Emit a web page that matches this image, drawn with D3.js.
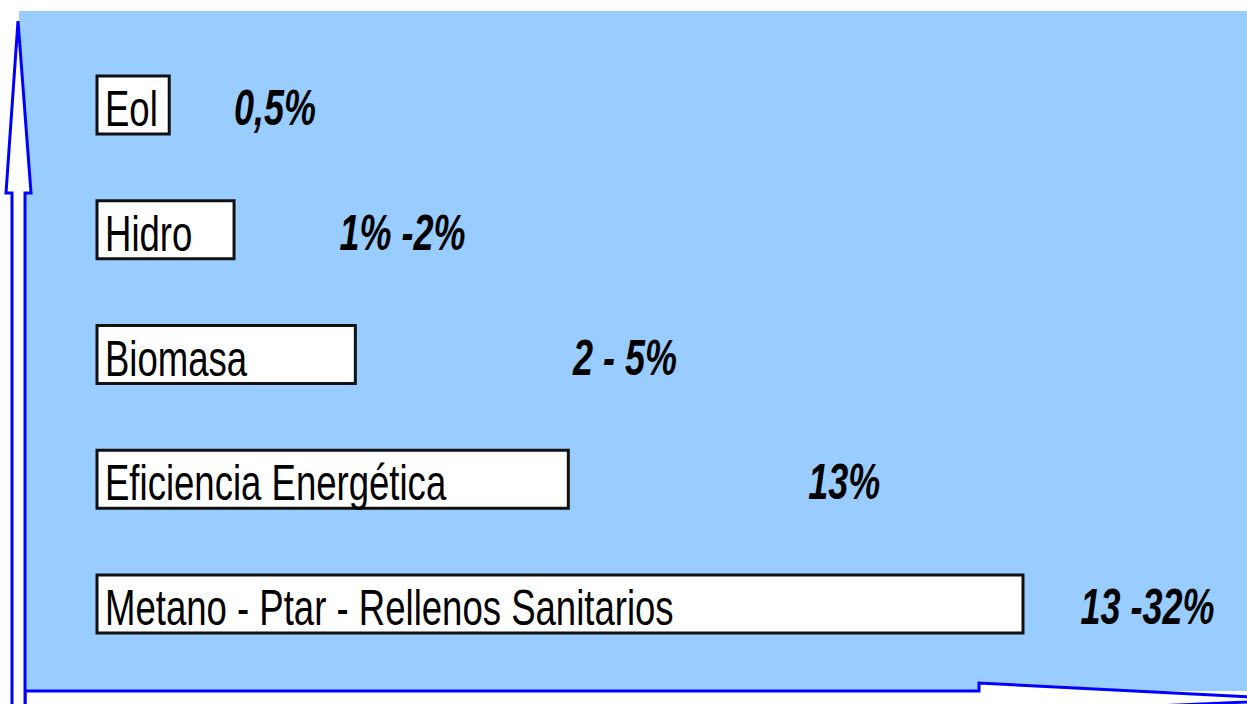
<!DOCTYPE html>
<html>
<head>
<meta charset="utf-8">
<script src="https://cdn.jsdelivr.net/npm/d3@7"></script>
<style>
  html, body { margin: 0; padding: 0; background: #fff; }
  svg { display: block; }
</style>
</head>
<body>
<script>
"use strict";

// categories, top to bottom
const categories = ["Eol", "Hidro", "Biomasa", "Eficiencia Energética", "Metano - Ptar - Rellenos Sanitarios"];
// box length, arbitrary index (longest = 100)
const barValues = [7.8, 14.8, 27.9, 50.9, 100];
// percentage shares shown next to each box
const shareLabels = ["0,5%", "1% -2%", "2 - 5%", "13%", "13 -32%"];
// where each share label starts, same index units as the boxes
const labelAt = [14.8, 26.2, 51.4, 76.8, 106.2];

const width = 1247,
      height = 704;

const svg = d3.select("body").append("svg")
              .attr("width", width)
              .attr("height", height);

// plot area
svg.append("rect")
   .attr("x", 19)
   .attr("y", 11)
   .attr("width", width - 19)
   .attr("height", 691 - 11)
   .attr("fill", "#99ccff");

const x = d3.scaleLinear()
            .domain([0, 100])
            .range([97, 1023]);

const y = d3.scalePoint()
            .domain(categories)
            .range([105, 604]);

const boxH = 58;

const rows = svg.append("g")
                .selectAll("g")
                .data(categories.map((c, i) => ({
                    name : c,
                    value: barValues[i],
                    share: shareLabels[i],
                    at   : labelAt[i]
                })))
                .join("g");

rows.append("rect")
    .attr("x", x(0))
    .attr("y", d => y(d.name) - boxH / 2)
    .attr("width", d => x(d.value) - x(0))
    .attr("height", boxH)
    .attr("fill", "#fff")
    .attr("stroke", "#111")
    .attr("stroke-width", 3);

rows.append("text")
    .attr("transform", d => `translate(${x(0) + 8},${y(d.name) + 21}) scale(0.731,1)`)
    .attr("font-family", "'Liberation Sans', Arial, sans-serif")
    .attr("font-size", 50)
    .attr("fill", "#000")
    .text(d => d.name);

rows.append("text")
    .attr("transform", d => `translate(${x(d.at)},${y(d.name) + 20}) scale(0.72,1)`)
    .attr("font-family", "'Liberation Sans', Arial, sans-serif")
    .attr("font-size", 50)
    .attr("font-weight", "bold")
    .attr("font-style", "italic")
    .attr("fill", "#000")
    .text(d => d.share);

// axes drawn as hollow block arrows
const arrowStyle = sel => sel.attr("fill", "#fff")
                             .attr("stroke", "#0000ff")
                             .attr("stroke-width", 3)
                             .attr("stroke-linejoin", "miter");

const line = d3.line();

// horizontal arrow
svg.append("path")
   .attr("d", line([
       [25, 691], [979, 691], [979, 683], [1300, 699.5],
       [979, 714], [979, 706], [25, 706]
   ]) + "Z")
   .call(arrowStyle);

// vertical arrow
svg.append("path")
   .attr("d", line([
       [12, 720], [12, 193], [6, 193], [18, 21],
       [31, 193], [25, 193], [25, 720]
   ]) + "Z")
   .call(arrowStyle);
</script>
</body>
</html>
